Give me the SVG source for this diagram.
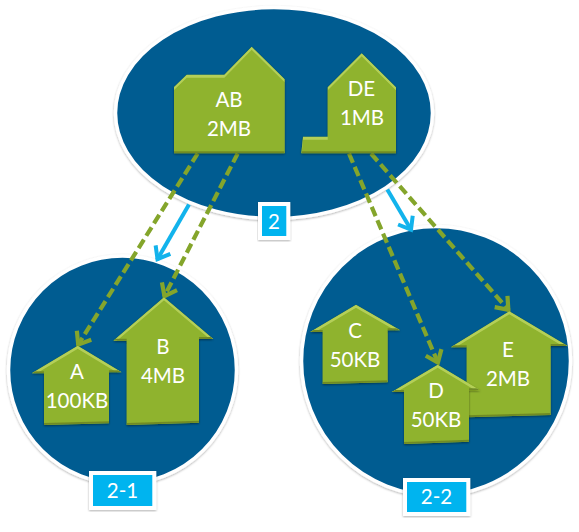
<svg xmlns="http://www.w3.org/2000/svg" width="579" height="532" viewBox="0 0 579 532">
<style>
.region{fill:#045C91;stroke:#fff;stroke-width:3.5;filter:url(#soft)}
.house{fill:#8FB32F;filter:url(#bevel)}
text{font-family:Lato,"Noto Sans",sans-serif;font-size:20.5px;fill:#fff;text-anchor:middle}
.dash{fill:none;stroke:#84A52B;stroke-width:4.2;stroke-dasharray:10 4.5;marker-end:url(#green)}
.flow{fill:none;stroke:#12B3EC;stroke-width:4;marker-end:url(#blue)}
.tagbox{fill:#00B4EF;stroke:#fff;stroke-width:4;filter:url(#soft)}
</style>
<defs>
<filter id="soft" x="-10%" y="-10%" width="120%" height="120%">
<feDropShadow dx="0" dy="1" stdDeviation="1" flood-color="#000" flood-opacity="0.3"/>
</filter>
<filter id="bevel" x="-10%" y="-10%" width="120%" height="120%">
<feOffset in="SourceAlpha" dy="2.5" result="down"/>
<feComposite in="SourceAlpha" in2="down" operator="out" result="topBand"/>
<feFlood flood-color="#B4CF58"/>
<feComposite in2="topBand" operator="in"/>
<feGaussianBlur stdDeviation="0.6"/>
<feComposite in2="SourceAlpha" operator="in" result="light"/>
<feOffset in="SourceAlpha" dy="-2" result="up"/>
<feComposite in="SourceAlpha" in2="up" operator="out" result="botBand"/>
<feFlood flood-color="#6F8A25"/>
<feComposite in2="botBand" operator="in"/>
<feGaussianBlur stdDeviation="0.6"/>
<feComposite in2="SourceAlpha" operator="in" result="dark"/>
<feDropShadow in="SourceGraphic" dx="0" dy="1" stdDeviation="1" flood-color="#000" flood-opacity="0.45" result="base"/>
<feMerge><feMergeNode in="base"/><feMergeNode in="light"/><feMergeNode in="dark"/></feMerge>
</filter>
<marker id="green" markerUnits="userSpaceOnUse" markerWidth="24" markerHeight="24" refX="20" refY="12" orient="auto">
<path d="M8 3.5L19 12L8 20.5" fill="none" stroke="#84A52B" stroke-width="4.2"/>
</marker>
<marker id="blue" markerUnits="userSpaceOnUse" markerWidth="24" markerHeight="24" refX="20" refY="12" orient="auto">
<path d="M8 3.5L19 12L8 20.5" fill="none" stroke="#12B3EC" stroke-width="4"/>
</marker>
</defs>
<g id="region-2"><ellipse class="region" cx="274" cy="113" rx="158.5" ry="105.5"/></g>
<g id="region-2-1"><circle class="region" cx="122.5" cy="370" r="114"/></g>
<g id="region-2-2"><circle class="region" cx="436" cy="361" r="134.5"/></g>
<g id="connectors">
<path class="dash" d="M197.7 153.5L77.7 345.5"/>
<path class="dash" d="M237.7 153.5L164 297"/>
<path class="dash" d="M349 153.5L438.3 363.5"/>
<path class="dash" d="M371 153.5L509 310.5"/>
<path class="flow" d="M189 204.5L157 260"/>
<path class="flow" d="M387.3 189.5L411.5 230.5"/>
</g>
<g id="node-AB"><polygon class="house" points="174,87 186.7,74.7 224.3,74.7 251.7,46.7 284.7,79.3 284.7,153.3 174,153.3"/><text x="229" y="106.5">AB</text><text x="229" y="136">2MB</text></g>
<g id="node-DE"><polygon class="house" points="327.7,87.3 361.7,53.3 396,87.3 396,153.3 301.3,153.3 303,136.7 327.7,136.7"/><text x="361.5" y="96">DE</text><text x="362" y="125">1MB</text></g>
<g id="node-A"><polygon class="house" points="77.7,345.7 121.7,372.3 109,372.3 109,423.3 44,425 44,373.3 31.7,373.3"/><text x="77" y="379">A</text><text x="77" y="408">100KB</text></g>
<g id="node-B"><polygon class="house" points="164,297.3 213.3,339 199,339 199,422.7 126.7,425 126.7,340.7 113.3,340.7"/><text x="163" y="354">B</text><text x="163" y="383">4MB</text></g>
<g id="node-C"><polygon class="house" points="356,304.7 400.3,330.3 387.7,330.3 387.7,382.3 322.7,384 322.7,332 310,332"/><text x="355" y="338">C</text><text x="355" y="367">50KB</text></g>
<g id="node-E"><polygon class="house" points="509.3,311.3 567.7,346 550.7,346 550.7,415 466.7,417.3 466.7,347.3 450.7,347.3"/><text x="508" y="357">E</text><text x="508" y="386">2MB</text></g>
<g id="node-D"><polygon class="house" points="437.7,364.7 480.3,390.3 469,390.3 469,441.7 404,444 404,392 391.7,392"/><text x="436" y="398">D</text><text x="436" y="427">50KB</text></g>
<g id="tag-2"><rect class="tagbox" x="260" y="204" width="28.3" height="34"/><text x="274" y="229">2</text></g>
<g id="tag-2-1"><rect class="tagbox" x="91" y="473" width="63.3" height="35"/><text x="122.5" y="498">2-1</text></g>
<g id="tag-2-2"><rect class="tagbox" x="405" y="480" width="63.3" height="34"/><text x="436.5" y="504">2-2</text></g>
</svg>
